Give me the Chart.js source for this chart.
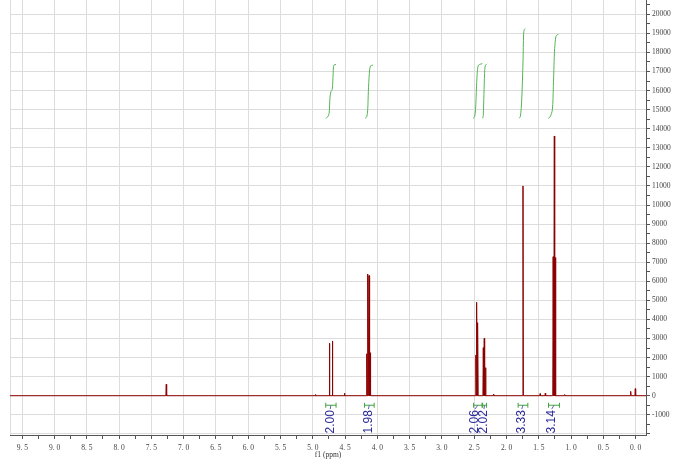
<!DOCTYPE html>
<html>
<head>
<meta charset="utf-8">
<script src="https://cdn.jsdelivr.net/npm/chart.js@4.4.0/dist/chart.umd.min.js"></script>
<style>
  html, body { margin: 0; padding: 0; background: #fff; }
  #wrap { width: 691px; height: 465px; position: relative; }
</style>
</head>
<body>
<div id="wrap"><canvas id="nmr"></canvas></div>
<script>
const PPM_MIN = -0.16;
const PPM_MAX = 9.69;
const INT_MIN = -2060;
const INT_MAX = 20750;

// peak lines (ppm, intensity)
const PEAK_PPM = [7.27, 4.96, 4.743, 4.697, 4.51, 4.165, 4.147, 4.130, 4.112,
  2.475, 2.460, 2.445, 2.360, 2.345, 2.325, 2.20, 1.745, 1.48, 1.40,
  1.278, 1.260, 1.242, 1.10, 0.077, 0.006];
const PEAK_HEIGHT = [600, 60, 2750, 2870, 130, 2200, 6380, 6300, 2250,
  2130, 4900, 3830, 2520, 3010, 1470, 90, 11000, 110, 130,
  7290, 13620, 7250, 60, 230, 370];

// integral curves (ppm, plotted level)
const INTEGRAL_A = [[4.80, 14550], [4.77, 14620], [4.748, 14800], [4.735, 15600], [4.72, 15950],
  [4.70, 16050], [4.69, 16500], [4.68, 17250], [4.67, 17340], [4.64, 17370]];
const INTEGRAL_B = [[4.19, 14550], [4.165, 14620], [4.15, 15000], [4.14, 15950], [4.125, 16900],
  [4.11, 17280], [4.09, 17320], [4.07, 17340]];
const INTEGRAL_C = [[2.515, 14550], [2.495, 14620], [2.48, 15000], [2.465, 16200], [2.45, 17100],
  [2.435, 17330], [2.40, 17390], [2.375, 17410]];
const INTEGRAL_D = [[2.368, 14550], [2.36, 14700], [2.35, 15800], [2.34, 16900], [2.33, 17300],
  [2.306, 17400]];
const INTEGRAL_E = [[1.805, 14550], [1.785, 14650], [1.765, 15500], [1.745, 17500], [1.735, 19000],
  [1.725, 19200], [1.713, 19250]];
const INTEGRAL_F = [[1.353, 14550], [1.325, 14620], [1.29, 15000], [1.275, 16200], [1.265, 17300],
  [1.255, 18200], [1.235, 18850], [1.215, 18930], [1.198, 18950]];

const INT_RANGES = [[4.80, 4.64], [4.20, 4.05], [2.51, 2.38], [2.37, 2.31], [1.82, 1.67], [1.35, 1.18]];
const INT_TEXT = ["2.00", "1.98", "2.06", "2.02", "3.33", "3.14"];
const INT_TEXT_PPM = [4.73, 4.14, 2.49, 2.35, 1.765, 1.30];

const SPEC_COLOR = "#8b0000";
const INT_COLOR = "#55b455";
const GRID_COLOR = "#dcdcdc";
const AXIS_COLOR = "#555555";
const TICK_FONT = { family: "'Liberation Serif', 'DejaVu Serif', serif", size: 7.5 };

function buildSpectrum() {
  const pts = [{ x: PPM_MAX, y: 0 }];
  const w = 0.006;
  PEAK_PPM.forEach((p, i) => {
    pts.push({ x: p + w, y: 0 });
    pts.push({ x: p, y: PEAK_HEIGHT[i] });
    pts.push({ x: p - w, y: 0 });
  });
  pts.push({ x: PPM_MIN, y: 0 });
  return pts;
}

function integralSet(pairs) {
  return {
    data: pairs.map(([x, y]) => ({ x, y })),
    borderColor: INT_COLOR,
    borderWidth: 1,
    pointRadius: 0,
    tension: 0.3,
  };
}

function stepTicks(lo, hi, step, desc) {
  const out = [];
  for (let v = lo; v <= hi + 1e-9; v += step) out.push({ value: Math.round(v * 100) / 100 });
  return desc ? out.reverse() : out;
}

const isHalf = (v) => Math.abs(v * 2 - Math.round(v * 2)) < 1e-6;
const isThousand = (v) => Math.abs(v % 1000) < 1e-6;

const frameAndLabels = {
  id: "frameAndLabels",
  beforeDatasetsDraw(chart) {
    const { ctx, chartArea: a } = chart;
    ctx.save();
    ctx.strokeStyle = GRID_COLOR;
    ctx.lineWidth = 1;
    ctx.beginPath();
    ctx.moveTo(a.left + 0.5, a.top);
    ctx.lineTo(a.left + 0.5, a.bottom);
    ctx.stroke();
    ctx.restore();
  },
  afterDatasetsDraw(chart) {
    const { ctx, scales: { x, y } } = chart;
    const yb = y.getPixelForValue(-500);
    const yt = y.getPixelForValue(-700);
    ctx.save();
    ctx.lineWidth = 1;
    INT_RANGES.forEach(([a, b], i) => {
      const x1 = x.getPixelForValue(a);
      const x2 = x.getPixelForValue(b);
      const tx = x.getPixelForValue(INT_TEXT_PPM[i]);
      ctx.strokeStyle = "#3fa43f";
      ctx.beginPath();
      ctx.moveTo(x1, yb); ctx.lineTo(x2, yb);
      ctx.moveTo(x1, yb - 2.5); ctx.lineTo(x1, yb + 2.5);
      ctx.moveTo(x2, yb - 2.5); ctx.lineTo(x2, yb + 2.5);
      ctx.stroke();
      ctx.strokeStyle = "#6060c0";
      ctx.beginPath();
      ctx.moveTo((x1 + x2) / 2, yb);
      ctx.lineTo(tx, yt);
      ctx.stroke();

      ctx.save();
      ctx.translate(tx, yt + 1);
      ctx.rotate(-Math.PI / 2);
      ctx.fillStyle = "#2a2a9a";
      ctx.font = "12px 'Liberation Sans', Arial, sans-serif";
      ctx.textAlign = "right";
      ctx.textBaseline = "middle";
      ctx.fillText(INT_TEXT[i], 0, 0);
      ctx.restore();
    });
    ctx.restore();
  },
  afterDraw(chart) {
    const { ctx, chartArea: a } = chart;
    ctx.save();
    ctx.fillStyle = "#333";
    ctx.font = "7.5px 'Liberation Serif', 'DejaVu Serif', serif";
    ctx.textAlign = "center";
    ctx.textBaseline = "middle";
    ctx.fillText("f1 (ppm)", (a.left + a.right) / 2, 455);
    ctx.restore();
  },
};

function init() {
  const ctx = document.getElementById("nmr").getContext("2d");
  new Chart(ctx, {
    type: "line",
    data: {
      datasets: [
        {
          data: buildSpectrum(),
          borderColor: SPEC_COLOR,
          borderWidth: 1,
          pointRadius: 0,
          tension: 0,
        },
        integralSet(INTEGRAL_A),
        integralSet(INTEGRAL_B),
        integralSet(INTEGRAL_C),
        integralSet(INTEGRAL_D),
        integralSet(INTEGRAL_E),
        integralSet(INTEGRAL_F),
      ],
    },
    options: {
      responsive: true,
      maintainAspectRatio: false,
      animation: false,
      layout: { padding: { left: 10, right: 0, top: 0, bottom: 0 } },
      plugins: { legend: { display: false }, tooltip: { enabled: false } },
      scales: {
        x: {
          type: "linear",
          reverse: true,
          min: PPM_MIN,
          max: PPM_MAX,
          afterBuildTicks: (s) => { s.ticks = stepTicks(0, 9.5, 0.25, true); },
          afterFit: (s) => { s.height = 30; s.paddingLeft = 0; s.paddingRight = 0; },
          grid: {
            color: (c) => (c.tick && isHalf(c.tick.value) ? GRID_COLOR : "rgba(0,0,0,0)"),
            tickColor: AXIS_COLOR,
            tickLength: 4,
          },
          border: { display: true, color: AXIS_COLOR },
          ticks: {
            autoSkip: false,
            maxRotation: 0,
            padding: 5,
            color: "#444",
            font: TICK_FONT,
            callback: (v) => (isHalf(v) ? v.toFixed(1).replace(".", ". ") : ""),
          },
        },
        y: {
          type: "linear",
          position: "right",
          min: INT_MIN,
          max: INT_MAX,
          afterBuildTicks: (s) => { s.ticks = stepTicks(-2000, 20500, 500, false); },
          afterFit: (s) => { s.width = 45; s.paddingTop = 0; s.paddingBottom = 0; },
          grid: {
            color: (c) => (c.tick && isThousand(c.tick.value) ? GRID_COLOR : "rgba(0,0,0,0)"),
            tickColor: AXIS_COLOR,
            tickLength: 4,
          },
          border: { display: true, color: AXIS_COLOR },
          ticks: {
            autoSkip: false,
            padding: 2,
            color: "#444",
            font: TICK_FONT,
            callback: (v) => (isThousand(v) && v >= -1000 && v <= 20000 ? String(v) : ""),
          },
        },
      },
    },
    plugins: [frameAndLabels],
  });
}

document.addEventListener("DOMContentLoaded", init);
</script>
</body>
</html>
